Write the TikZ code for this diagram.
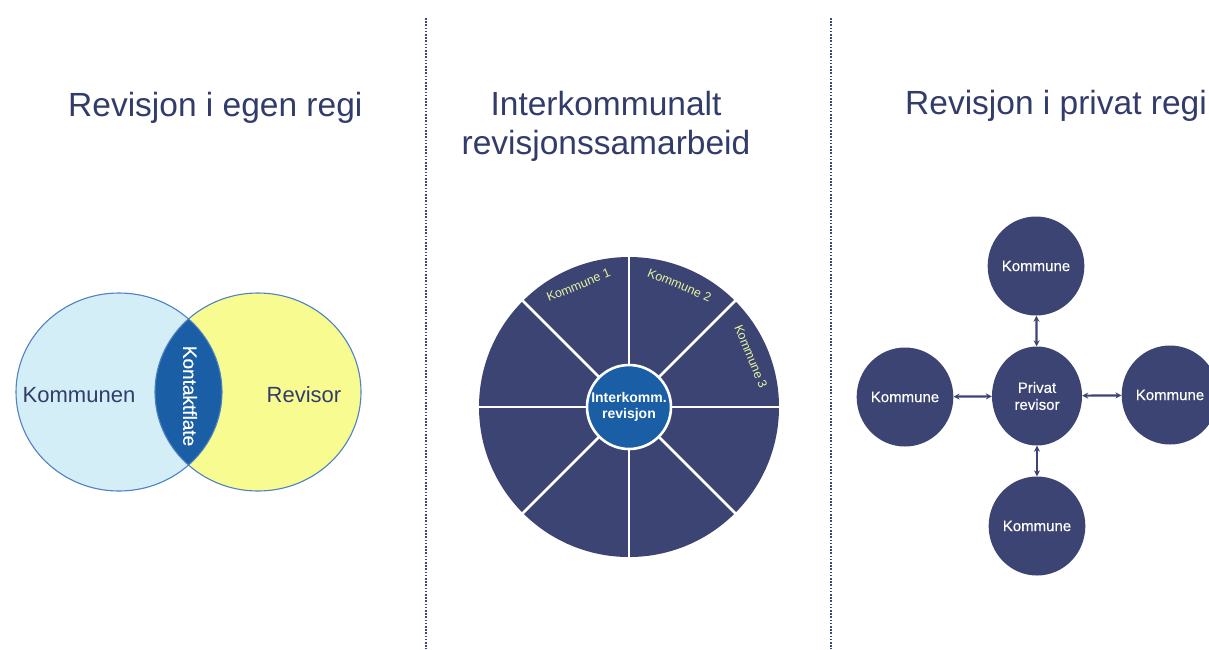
\documentclass[tikz,border=0pt]{standalone}
\usepackage{fontspec}
\setmainfont{Liberation Sans}
\newfontfamily\medfont[FakeBold=0.5]{Liberation Sans}
\usetikzlibrary{shapes.geometric,arrows.meta}
\definecolor{navy}{HTML}{3B4472}
\definecolor{titleblue}{HTML}{323C6B}
\definecolor{midblue}{HTML}{1A5EA6}
\definecolor{lightblue}{HTML}{D4EEF8}
\definecolor{paleyellow}{HTML}{F8FC90}
\definecolor{rimblue}{HTML}{4E82C2}
\definecolor{labelgreen}{HTML}{E6F4A0}
\definecolor{divider}{HTML}{3E4A78}
\tikzset{
  title/.style={font=\fontsize{33.5}{39}\selectfont, text=titleblue, inner sep=0pt},
  vennlabel/.style={font=\fontsize{22}{26}\selectfont, text=titleblue, inner sep=0pt},
  sectorlabel/.style={font=\fontsize{12.5}{14}\selectfont, text=labelgreen, inner sep=0pt},
  kommune/.style={ellipse, fill=navy, minimum width=90pt, minimum height=99pt,
    text=white, font=\medfont\fontsize{15}{17}\selectfont, align=center, inner sep=0pt},
  link/.style={<->, >={Stealth[length=6pt,width=6pt]}, draw=navy, line width=2.2pt},
  sep/.style={draw=divider, line width=2.6pt, dash pattern=on 1.6pt off 1.6pt}
}
\begin{document}
\begin{tikzpicture}[x=1pt,y=-1pt]
\useasboundingbox (0,0) rectangle (1209,649);
\fill[white] (0,0) rectangle (1209,649);

% column separators
\coordinate (s1a) at (426,18);
\coordinate (s1b) at (426,649);
\coordinate (s2a) at (831,18);
\coordinate (s2b) at (831,649);
\draw[sep] (s1a) -- (s1b);
\draw[sep] (s2a) -- (s2b);

% titles
\node[title, anchor=base west] (t1) at (68,116) {Revisjon i egen regi};
\node[title, anchor=base] (t2a) at (606,115) {Interkommunalt};
\node[title, anchor=base] (t2b) at (606,154) {revisjonssamarbeid};
\node[title, anchor=base west] (t3) at (905,114) {Revisjon i privat regi};

% ---- own audit: two overlapping ellipses
\node[ellipse, fill=lightblue, minimum width=206pt, minimum height=198pt, inner sep=0pt] (kom) at (119,392) {};
\node[ellipse, fill=paleyellow, minimum width=206pt, minimum height=198pt, inner sep=0pt] (rev) at (258,392) {};
\begin{scope}
  \clip (119,392) ellipse [x radius=103, y radius=99];
  \fill[midblue] (258,392) ellipse [x radius=103, y radius=99];
\end{scope}
\draw[rimblue, line width=1.1pt] (119,392) ellipse [x radius=103, y radius=99];
\draw[rimblue, line width=1.1pt] (258,392) ellipse [x radius=103, y radius=99];
\node[vennlabel] (komtxt) at (79,395) {Kommunen};
\node[vennlabel] (revtxt) at (304,395) {Revisor};
\node[font=\medfont\fontsize{19}{22}\selectfont, text=white, rotate=-90, inner sep=0pt] (kontakt) at (190,396) {Kontaktflate};

% ---- joint audit: wheel of municipalities
\node[circle, fill=navy, minimum size=300pt, inner sep=0pt] (wheel) at (629,407) {};
\foreach \a in {0,45,...,315}
  \draw[white, line width=2.6pt] (wheel.center) -- ([shift={(\a:152pt)}]wheel.center);
\node[circle, fill=midblue, draw=white, line width=2.6pt, minimum size=84pt, inner sep=0pt,
  text=white, align=center, font=\bfseries\fontsize{14}{16}\selectfont] (ik) at (wheel.center) {Interkomm.\\revisjon};
\node[sectorlabel, rotate=22.5] (k1) at ([shift={(112.5:132pt)}]wheel.center) {Kommune 1};
\node[sectorlabel, rotate=-22.5] (k2) at ([shift={(67.5:132pt)}]wheel.center) {Kommune 2};
\node[sectorlabel, rotate=-67.5] (k3) at ([shift={(22.5:132pt)}]wheel.center) {Kommune 3};

% ---- private audit: hub and spokes
\node[kommune] (pr) at (1037,396) {Privat\\revisor};
\node[kommune] (ktop) at (1036,266) {Kommune};
\node[kommune] (kleft) at (905,397) {Kommune};
\node[kommune] (kright) at (1170,395) {Kommune};
\node[kommune] (kbot) at (1037,526) {Kommune};
\draw[link] (ktop) -- (pr);
\draw[link] (kbot) -- (pr);
\draw[link] (kleft) -- (pr);
\draw[link] (kright) -- (pr);
\end{tikzpicture}
\end{document}
